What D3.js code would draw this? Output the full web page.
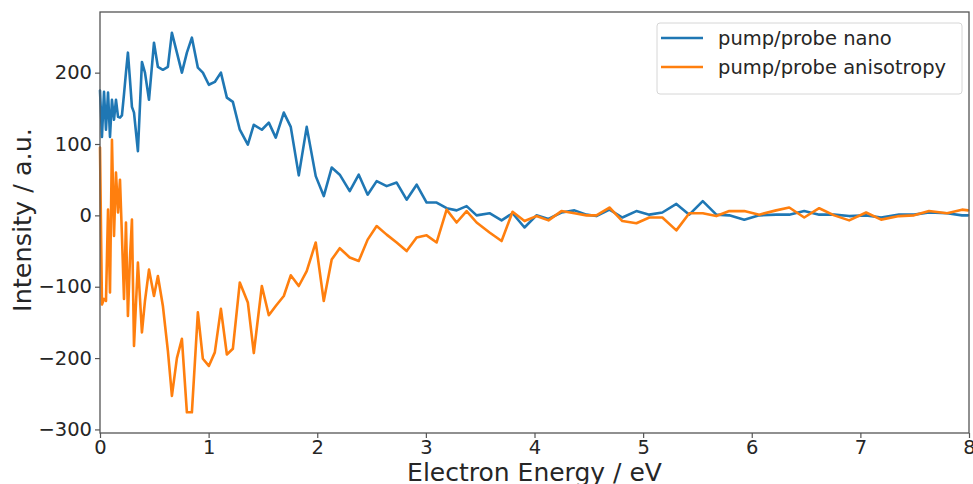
<!DOCTYPE html>
<html>
<head>
<meta charset="utf-8">
<script src="https://cdn.jsdelivr.net/npm/d3@7/dist/d3.min.js"></script>
<style>
  html, body { margin: 0; padding: 0; background: #fff; }
  svg { display: block; font-family: "DejaVu Sans", sans-serif; }
</style>
</head>
<body>
<svg id="chart" width="973" height="484"></svg>
<script>
// Electron energy (eV)
const energy = [0.000,0.018,0.037,0.055,0.074,0.092,0.110,0.129,0.147,0.166,0.184,0.202,0.221,0.239,0.257,0.276,0.294,0.313,0.349,0.386,0.414,0.451,0.497,0.533,0.579,0.625,0.662,0.708,0.754,0.800,0.846,0.901,0.947,1.002,1.057,1.113,1.168,1.223,1.287,1.361,1.416,1.490,1.554,1.618,1.692,1.756,1.830,1.903,1.986,2.060,2.133,2.207,2.299,2.382,2.464,2.547,2.639,2.731,2.823,2.915,3.007,3.099,3.191,3.283,3.375,3.467,3.586,3.697,3.798,3.908,4.018,4.129,4.248,4.368,4.478,4.570,4.690,4.809,4.938,5.057,5.177,5.306,5.425,5.549,5.674,5.793,5.931,6.069,6.225,6.345,6.483,6.621,6.759,6.897,7.053,7.191,7.356,7.494,7.632,7.798,7.936,7.991];

// pump/probe nano
const nano = [175,110,173,120,172,110,162,134,162,138,137,140,170,200,228,190,152,144,90,215,200,162,242,208,204,208,256,228,200,228,249,207,200,183,187,200,165,159,120,99,127,120,130,109,144,124,56,124,55,27,67,57,34,57,29,48,41,46,22,43,18,18,10,7,13,0,3,-7,3,-17,0,-5,4,7,1,-1,8,-3,6,1,4,16,1,20,1,0,-6,0,1,1,6,1,1,-1,0,-3,1,1,4,3,0,0];

// pump/probe anisotropy
const aniso = [95,-125,-117,-120,8,-108,106,-29,60,4,50,-29,-117,-10,-141,-60,-6,-183,-66,-164,-120,-76,-113,-85,-127,-190,-253,-200,-173,-276,-276,-136,-201,-211,-192,-131,-195,-187,-94,-122,-193,-99,-140,-127,-113,-84,-99,-78,-38,-120,-62,-46,-59,-64,-34,-15,-27,-38,-50,-31,-28,-38,8,-10,6,-10,-24,-36,5,-8,-1,-7,6,3,0,0,11,-8,-11,-3,-3,-21,3,3,-1,6,6,1,7,11,-3,10,0,-7,4,-6,-1,0,6,3,8,7];

const seriesNames = ["pump/probe nano", "pump/probe anisotropy"];
const seriesColors = ["#1f77b4", "#ff7f0e"];
const xTicks = [0,1,2,3,4,5,6,7,8];
const yTicks = [-300,-200,-100,0,100,200];
const xLabel = "Electron Energy / eV";
const yLabel = "Intensity / a.u.";

(function () {
const svg = d3.select("#chart");
const pl = 100, pr = 969, pt = 12, pb = 433;
const textColor = "#262626";
const spineColor = "#555";

const x = d3.scaleLinear().domain([0, 8]).range([pl, pr]);
const y = d3.scaleLinear().domain([-305, 285]).range([pb, pt]);

// Lines
const line = d3.line().x((d, i) => x(energy[i])).y(d => y(d));
const g = svg.append("g");
[nano, aniso].forEach((vals, k) => {
  g.append("path")
    .datum(vals)
    .attr("d", line)
    .attr("fill", "none")
    .attr("stroke", seriesColors[k])
    .attr("stroke-width", 2.6)
    .attr("stroke-linejoin", "round")
    .attr("stroke-linecap", "round");
});

// Frame
svg.append("rect")
  .attr("x", pl).attr("y", pt)
  .attr("width", pr - pl).attr("height", pb - pt)
  .attr("fill", "none").attr("stroke", spineColor).attr("stroke-width", 1.3);

// Axes
const xAxis = d3.axisBottom(x).tickValues(xTicks).tickSize(5).tickPadding(2)
  .tickFormat(d3.format("d"));
const gx = svg.append("g").attr("transform", `translate(0,${pb})`).call(xAxis);
const yAxis = d3.axisLeft(y).tickValues(yTicks).tickSize(5).tickPadding(3)
  .tickFormat(d => d < 0 ? "\u2212" + Math.abs(d) : String(d));
const gy = svg.append("g").attr("transform", `translate(${pl},0)`).call(yAxis);
[gx, gy].forEach(ga => {
  ga.select(".domain").remove();
  ga.selectAll(".tick line").attr("stroke", spineColor).attr("stroke-width", 1.2);
  ga.selectAll(".tick text").attr("fill", textColor)
    .style("font-size", "19.5px").style("font-family", "DejaVu Sans, sans-serif");
});

// Axis labels
svg.append("text")
  .attr("x", (pl + pr) / 2).attr("y", 481)
  .attr("text-anchor", "middle")
  .attr("fill", textColor)
  .style("font-size", "25px")
  .text(xLabel);
svg.append("text")
  .attr("transform", `translate(31,220) rotate(-90)`)
  .attr("text-anchor", "middle")
  .attr("fill", textColor)
  .style("font-size", "25.5px")
  .text(yLabel);

// Legend
const lg = svg.append("g");
lg.append("rect")
  .attr("x", 657).attr("y", 23).attr("width", 305).attr("height", 71)
  .attr("rx", 3).attr("fill", "#fff").attr("fill-opacity", 0.85)
  .attr("stroke", "#d6d6d6").attr("stroke-width", 1);
seriesNames.forEach((name, k) => {
  const cy = 38 + k * 29;
  lg.append("line")
    .attr("x1", 661).attr("x2", 703).attr("y1", cy).attr("y2", cy)
    .attr("stroke", seriesColors[k]).attr("stroke-width", 2.6);
  lg.append("text")
    .attr("x", 718).attr("y", cy + 6.5)
    .attr("fill", textColor)
    .style("font-size", "19.5px")
    .text(name);
});
})();
</script>
</body>
</html>
